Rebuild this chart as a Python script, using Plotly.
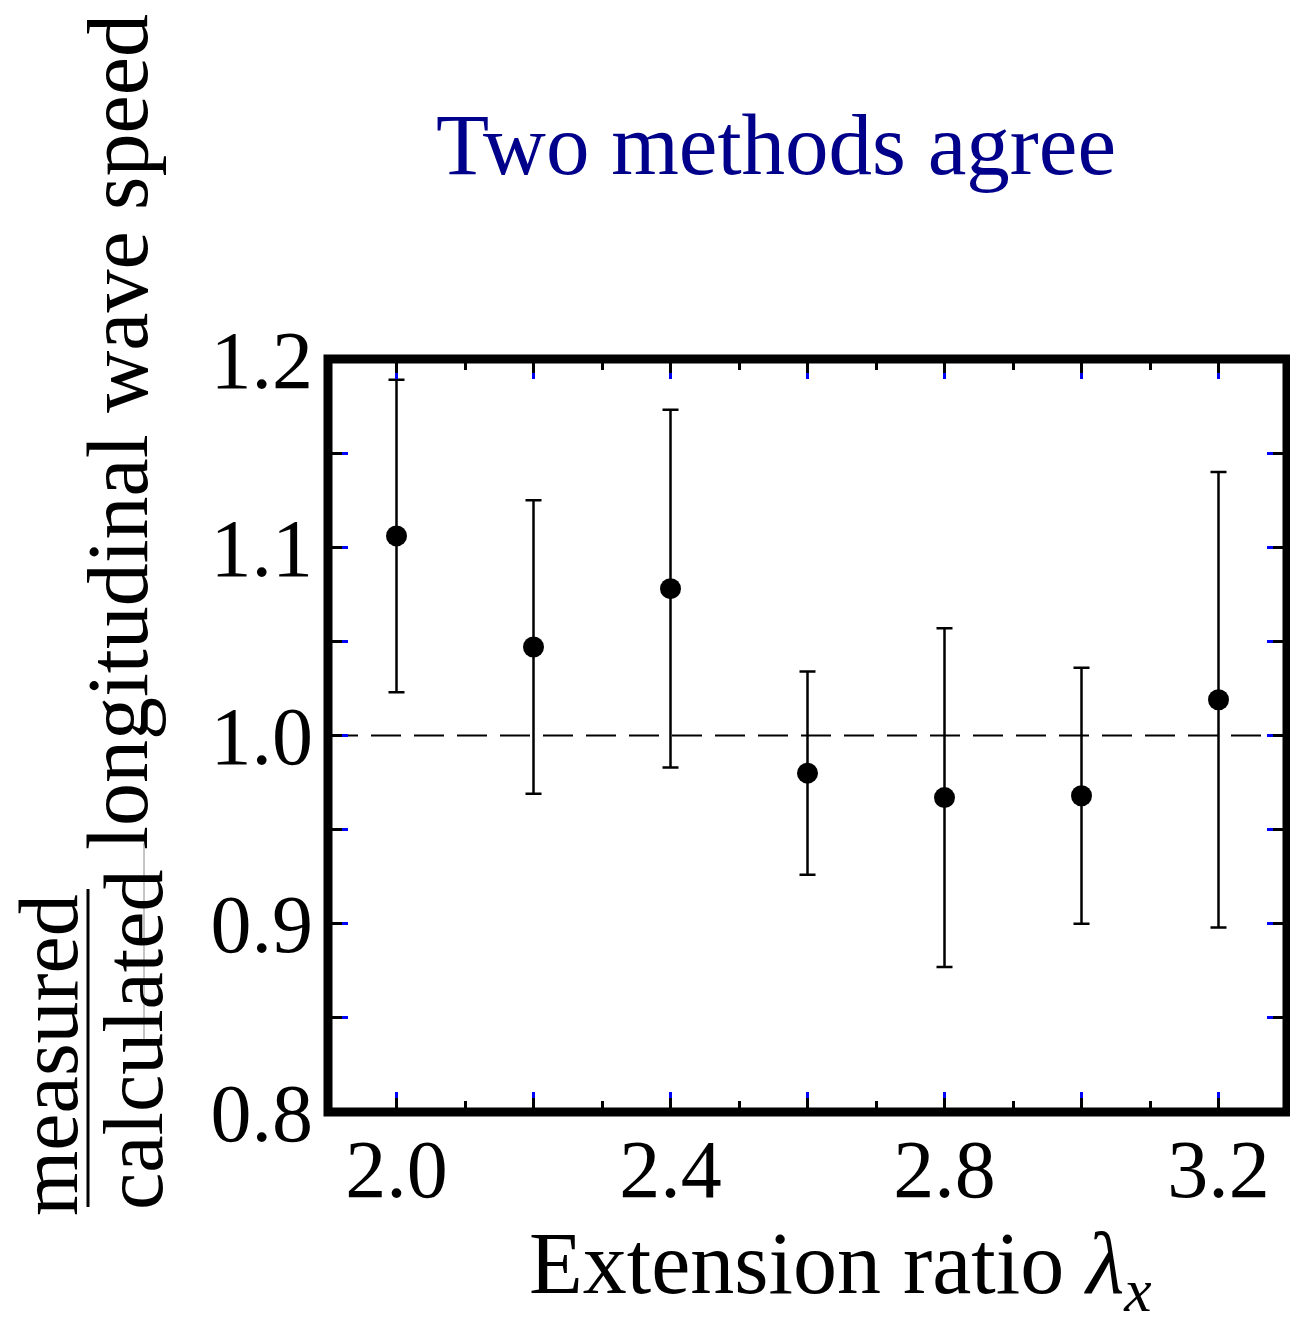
import plotly.graph_objects as go

# ---- data ----
extension_ratio = [2.0, 2.2, 2.4, 2.6, 2.8, 3.0, 3.2]
speed_ratio = [1.106, 1.047, 1.078, 0.980, 0.967, 0.968, 1.019]
speed_err = [0.083, 0.078, 0.095, 0.054, 0.090, 0.068, 0.121]

x_tickvals = [2.0, 2.2, 2.4, 2.6, 2.8, 3.0, 3.2]
x_ticktext = ["2.0", "", "2.4", "", "2.8", "", "3.2"]
y_tickvals = [0.8, 0.85, 0.9, 0.95, 1.0, 1.05, 1.1, 1.15, 1.2]
y_ticktext = ["0.8", "", "0.9", "", "1.0", "", "1.1", "", "1.2"]
x_range = [1.9, 3.3]
y_range = [0.8, 1.2]

W, H = 1290, 1317
L, R, T, B = 328, 1287, 359, 1112  # plot area pixels (frame line centres)

def px(xp):
    return (xp - L) / (R - L)

def py(yp):
    return (B - yp) / (B - T)

FONT = "Liberation Serif"

fig = go.Figure()
fig.add_trace(go.Scatter(
    x=extension_ratio, y=speed_ratio, mode="markers",
    marker=dict(symbol="circle", size=21, color="black"),
    error_y=dict(type="data", array=speed_err, visible=True,
                 color="black", thickness=2.5, width=8),
    showlegend=False,
))
# invisible trace so the overlay axes (black inner part of major ticks) are drawn
fig.add_trace(go.Scatter(x=[x_range[0]], y=[y_range[0]], xaxis="x2", yaxis="y2",
                         mode="markers", marker=dict(opacity=0), showlegend=False,
                         hoverinfo="skip"))

fig.add_shape(type="line", xref="paper", yref="y", x0=0, x1=1, y0=1.0, y1=1.0,
              line=dict(color="black", width=2, dash="30px,13px"), layer="below")

tickfont = dict(family=FONT, size=82, color="black")

fig.update_layout(
    xaxis=dict(range=x_range, tickmode="array", tickvals=x_tickvals, ticktext=x_ticktext,
               showgrid=False, zeroline=False, showline=False, mirror="allticks",
               ticks="inside", tickcolor="#0000ff", tickwidth=2.5, ticklen=20,
               tickfont=tickfont, ticklabelstandoff=2,
               minor=dict(tickmode="linear", tick0=2.0, dtick=0.1, ticks="inside",
                          ticklen=11, tickwidth=2.5, tickcolor="black")),
    yaxis=dict(range=y_range, tickmode="array", tickvals=y_tickvals, ticktext=y_ticktext,
               showgrid=False, zeroline=False, showline=False, mirror="allticks",
               ticks="inside", tickcolor="#0000ff", tickwidth=2.5, ticklen=20,
               tickfont=tickfont, ticklabelstandoff=14),
    xaxis2=dict(range=x_range, overlaying="x", anchor="y2", tickmode="array",
                tickvals=x_tickvals, ticktext=[""] * len(x_tickvals),
                showgrid=False, zeroline=False, showline=False, mirror="allticks",
                ticks="inside", tickcolor="black", tickwidth=2.5, ticklen=14),
    yaxis2=dict(range=y_range, overlaying="y", anchor="x2", tickmode="array",
                tickvals=y_tickvals, ticktext=[""] * len(y_tickvals),
                showgrid=False, zeroline=False, showline=False, mirror="allticks",
                ticks="inside", tickcolor="black", tickwidth=2.5, ticklen=14),
)

# thick frame
fig.add_shape(type="rect", xref="paper", yref="paper", x0=0, x1=1, y0=0, y1=1,
              line=dict(color="black", width=9), layer="above")

ann = []
ann.append(dict(text="Two methods agree", x=px(776), y=py(144), xref="paper", yref="paper",
                showarrow=False, font=dict(family=FONT, size=87, color="#00008b"),
                xanchor="center", yanchor="middle"))
ann.append(dict(text="Extension ratio <i>λ</i><sub><i>x</i></sub>", x=px(840), y=py(1269),
                xref="paper", yref="paper", showarrow=False,
                font=dict(family=FONT, size=88, color="black"),
                xanchor="center", yanchor="middle"))
ann.append(dict(text="longitudinal wave speed", x=px(118), y=py(432), xref="paper",
                yref="paper", showarrow=False, textangle=-90,
                font=dict(family=FONT, size=86, color="black"),
                xanchor="center", yanchor="middle"))
ann.append(dict(text="measured", x=px(48), y=py(1055), xref="paper", yref="paper",
                showarrow=False, textangle=-90,
                font=dict(family=FONT, size=84, color="black"),
                xanchor="center", yanchor="middle"))
ann.append(dict(text="calculated", x=px(133), y=py(1040), xref="paper", yref="paper",
                showarrow=False, textangle=-90,
                font=dict(family=FONT, size=84, color="black"),
                xanchor="center", yanchor="middle"))
fig.update_layout(annotations=ann)

# fraction bar
fig.add_shape(type="line", xref="paper", yref="paper", x0=px(88), x1=px(88),
              y0=py(889), y1=py(1207), line=dict(color="black", width=3))
# faint stray rule crossing "calculated" as in the reference
fig.add_shape(type="line", xref="paper", yref="paper", x0=px(144), x1=px(144),
              y0=py(843), y1=py(1040), line=dict(color="#8a8a8a", width=1))

fig.update_layout(width=W, height=H, margin=dict(l=L, r=W - R, t=T, b=H - B),
                  plot_bgcolor="white", paper_bgcolor="white")

fig.write_html("out.html")
